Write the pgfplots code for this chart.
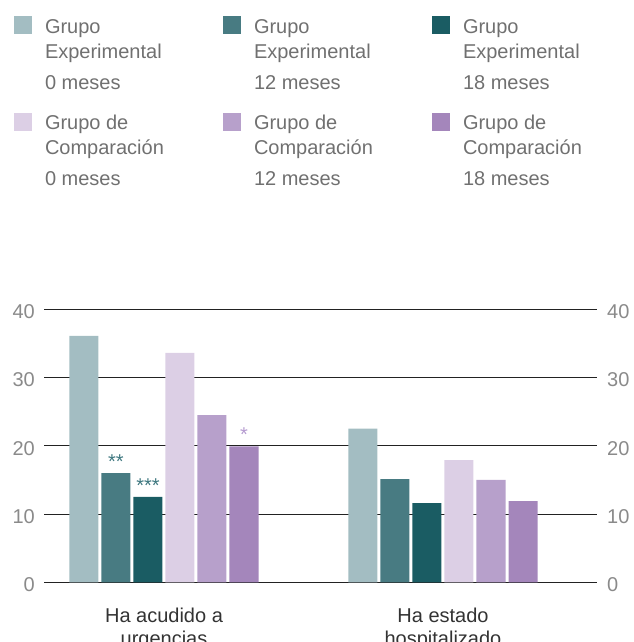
\documentclass[border=0pt]{standalone}
\usepackage{pgfplots}
\pgfplotsset{compat=1.18}
\usepackage{fontspec}
\setmainfont{Liberation Sans}
\definecolor{c1}{HTML}{A3BDC2}
\definecolor{c2}{HTML}{487B82}
\definecolor{c3}{HTML}{1A5C63}
\definecolor{c4}{HTML}{DCCFE5}
\definecolor{c5}{HTML}{B7A0CB}
\definecolor{c6}{HTML}{A486BB}
\definecolor{startea}{HTML}{3F7880}
\definecolor{starpur}{HTML}{B59BD0}
\definecolor{legtext}{HTML}{707070}
\definecolor{ticktext}{HTML}{8A8A8A}
\definecolor{cattext}{HTML}{333333}
\definecolor{gridc}{HTML}{222222}
\pgfplotsset{
  sqleg/.style={legend image code/.code={\fill[##1] (0pt,-0.7pt) rectangle (18pt,17.3pt);}},
  starnode/.style={nodes near coords, point meta=explicit symbolic,
    every node near coord/.append style={anchor=base, yshift=4.5pt, inner sep=0pt, text=#1, font=\fontsize{20}{24}\selectfont}},
}
\newcommand{\leg}[2]{\begin{tabular}[t]{@{\hspace{13pt}}p{178pt}@{}}#1\\#2\end{tabular}}
\begin{document}
\begin{tikzpicture}
\useasboundingbox (0pt,0pt) rectangle (633pt,642pt);
\begin{axis}[
  at={(44pt,59.7pt)}, anchor=south west,
  scale only axis, width=553pt, height=273pt,
  xmin=-0.4301, xmax=1.552, ymin=0, ymax=40,
  ybar=3pt, bar width=29pt,
  axis line style={draw=none}, tick style={draw=none},
  ytick={0,10,20,30,40},
  ymajorgrids, grid style={gridc, line width=1.1pt},
  xtick={0,1},
  xticklabels={{\begin{tabular}[t]{@{}c@{}}Ha acudido a\\urgencias\end{tabular}},{\begin{tabular}[t]{@{}c@{}}Ha estado\\hospitalizado\end{tabular}}},
  xticklabel style={anchor=base, yshift=-36pt, inner sep=0pt, text=cattext, font=\fontsize{20}{23}\selectfont},
  yticklabel style={anchor=east, inner sep=0pt, xshift=-9pt, yshift=-2.5pt, text=ticktext, font=\fontsize{20}{24}\selectfont},
  /pgf/number format/assume math mode=true,
  legend columns=3,
  legend style={draw=none, fill=none, inner sep=0pt, outer sep=0pt,
    at={(-0.05425,2.0751)}, anchor=north west, row sep=77.7pt, column sep=0pt,
    font=\fontsize{20}{25}\selectfont, text=legtext,
    nodes={inner sep=0pt}, cells={anchor=base west}},
]
\addplot[fill=c1, draw=none, sqleg] coordinates {(0,36.1) (1,22.5)};
\addlegendentry{\leg{Grupo\\Experimental}{[6pt]0 meses}}
\addplot[fill=c2, draw=none, sqleg, starnode=startea] coordinates {(0,16.0) [**] (1,15.1) []};
\addlegendentry{\leg{Grupo\\Experimental}{[6pt]12 meses}}
\addplot[fill=c3, draw=none, sqleg, starnode=startea] coordinates {(0,12.5) [***] (1,11.6) []};
\addlegendentry{\leg{Grupo\\Experimental}{[6pt]18 meses}}
\addplot[fill=c4, draw=none, sqleg] coordinates {(0,33.6) (1,17.9)};
\addlegendentry{\leg{Grupo de\\Comparación}{[6pt]0 meses}}
\addplot[fill=c5, draw=none, sqleg] coordinates {(0,24.5) (1,15.0)};
\addlegendentry{\leg{Grupo de\\Comparación}{[6pt]12 meses}}
\addplot[fill=c6, draw=none, sqleg, starnode=starpur] coordinates {(0,19.9) [*] (1,11.9) []};
\addlegendentry{\leg{Grupo de\\Comparación}{[6pt]18 meses}}
\end{axis}
\begin{axis}[
  at={(44pt,59.7pt)}, anchor=south west,
  scale only axis, width=553pt, height=273pt,
  xmin=-0.4301, xmax=1.552, ymin=0, ymax=40,
  axis line style={draw=none}, tick style={draw=none},
  xtick=\empty, ytick={0,10,20,30,40},
  yticklabel pos=right,
  yticklabel style={anchor=west, inner sep=0pt, xshift=10pt, yshift=-2.5pt, text=ticktext, font=\fontsize{20}{24}\selectfont},
  /pgf/number format/assume math mode=true,
]
\addplot[draw=none] coordinates {(0,0)};
\end{axis}
\end{tikzpicture}
\end{document}
